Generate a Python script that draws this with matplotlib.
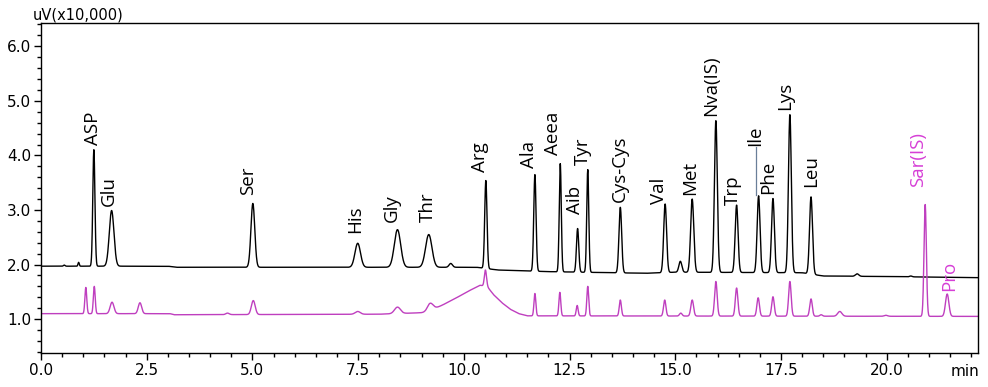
import numpy as np
import matplotlib
matplotlib.use("Agg")
import matplotlib.pyplot as plt
from matplotlib.ticker import MultipleLocator, FormatStrFormatter

# peak table, black trace: retention time (min), top value (x10,000 uV), width (sigma, min)
blk_t = [0.55, 0.89, 1.25, 1.67, 5.01, 7.49, 8.43, 9.17, 9.69, 10.52, 11.68, 12.28, 12.69,
         12.93, 13.70, 14.76, 15.12, 15.40, 15.96, 16.45, 16.97, 17.31, 17.71, 18.21, 19.30, 20.57]
blk_top = [1.99, 2.04, 4.11, 2.99, 3.12, 2.39, 2.64, 2.55, 2.02, 3.54, 3.65, 3.85, 2.66,
           3.74, 3.05, 3.11, 2.06, 3.20, 4.64, 3.09, 3.26, 3.21, 4.75, 3.24, 1.83, 1.79]
blk_w = [0.02, 0.015, 0.025, 0.055, 0.045, 0.065, 0.075, 0.075, 0.04, 0.027, 0.027, 0.024, 0.027,
         0.024, 0.032, 0.034, 0.035, 0.037, 0.034, 0.034, 0.034, 0.034, 0.034, 0.035, 0.04, 0.03]
# baseline knots of the black trace
blk_base_t = [0.0, 3.0, 3.2, 10.3, 10.8, 12.0, 14.3, 15.0, 18.0, 18.5, 20.0, 22.15]
blk_base_v = [1.97, 1.97, 1.95, 1.95, 1.90, 1.87, 1.84, 1.86, 1.85, 1.79, 1.78, 1.76]

# magenta trace
mag_t = [1.06, 1.26, 1.68, 2.34, 4.41, 5.02, 7.49, 8.43, 9.20, 10.51, 11.68, 12.27, 12.68,
         12.93, 13.70, 14.75, 15.13, 15.40, 15.96, 16.45, 16.96, 17.31, 17.71, 18.21, 18.45,
         18.89, 19.98, 20.91, 21.43]
mag_top = [1.58, 1.60, 1.31, 1.30, 1.11, 1.34, 1.14, 1.22, 1.29, 1.90, 1.47, 1.49, 1.25,
           1.60, 1.35, 1.35, 1.11, 1.35, 1.69, 1.57, 1.39, 1.41, 1.69, 1.37, 1.08,
           1.14, 1.07, 3.10, 1.46]
mag_w = [0.022, 0.022, 0.045, 0.04, 0.04, 0.045, 0.06, 0.07, 0.07, 0.025, 0.022, 0.022, 0.022,
         0.022, 0.025, 0.028, 0.03, 0.032, 0.03, 0.03, 0.03, 0.03, 0.03, 0.03, 0.03,
         0.05, 0.04, 0.028, 0.04]
mag_base_t = [0.0, 3.05, 3.15, 8.0, 9.1, 9.3, 9.5, 9.8, 10.1, 10.38, 10.55, 10.7, 10.9, 11.1, 11.3, 11.5, 22.15]
mag_base_v = [1.10, 1.10, 1.08, 1.09, 1.12, 1.19, 1.26, 1.38, 1.51, 1.62, 1.60, 1.45, 1.30, 1.18, 1.10, 1.06, 1.05]

# peak names: label x (min), label bottom (uV x10,000)
names = ["ASP", "Glu", "Ser", "His", "Gly", "Thr", "Arg", "Ala", "Aeea", "Aib", "Tyr",
         "Cys-Cys", "Val", "Met", "Nva(IS)", "Trp", "Ile", "Phe", "Lys", "Leu"]
name_t = [1.22, 1.61, 4.89, 7.42, 8.29, 9.16, 10.38, 11.54, 12.11, 12.62, 12.81,
          13.69, 14.61, 15.34, 15.84, 16.37, 16.88, 17.19, 17.60, 18.22]
name_v = [4.20, 3.08, 3.28, 2.57, 2.78, 2.78, 3.69, 3.77, 4.00, 2.92, 3.83,
          3.14, 3.11, 3.28, 4.73, 3.10, 4.17, 3.30, 4.83, 3.42]
mag_names = ["Sar(IS)", "Pro"]
mag_name_t = [20.74, 21.47]
mag_name_v = [3.42, 1.52]


def trace(t, pk_t, pk_top, pk_w, kt, kv):
    base = np.interp(t, kt, kv)
    y = base.copy()
    for p, h, w in zip(pk_t, pk_top, pk_w):
        amp = h - np.interp(p, kt, kv)
        y += amp * np.exp(-0.5 * ((t - p) / w) ** 2)
    return y


t = np.linspace(0, 22.15, 6000)
y_blk = trace(t, blk_t, blk_top, blk_w, blk_base_t, blk_base_v)
y_mag = trace(t, mag_t, mag_top, mag_w, mag_base_t, mag_base_v)

fig = plt.figure(figsize=(9.88, 3.87), dpi=100)
ax = fig.add_axes([0.0415, 0.088, 0.948, 0.853])
ax.plot(t, y_blk, color="black", lw=1.0)
ax.plot(t, y_mag, color="#bf3fbf", lw=1.0)

ax.set_xlim(0, 22.15)
ax.set_ylim(0.38, 6.43)
ax.xaxis.set_major_locator(MultipleLocator(2.5))
ax.xaxis.set_minor_locator(MultipleLocator(0.5))
ax.yaxis.set_major_locator(MultipleLocator(1.0))
ax.yaxis.set_minor_locator(MultipleLocator(0.2))
ax.xaxis.set_major_formatter(FormatStrFormatter("%.1f"))
ax.yaxis.set_major_formatter(FormatStrFormatter("%.1f"))
ax.tick_params(which="major", direction="out", length=5, width=1, labelsize=11, pad=2)
ax.tick_params(which="minor", direction="out", length=3, width=1)
for s in ax.spines.values():
    s.set_linewidth(1.0)

lab_font = dict(family="Open Sans", fontsize=13.5, rotation=90, ha="center", va="bottom")
for n, x, v in zip(names, name_t, name_v):
    ax.text(x, v, n, color="black", **lab_font)
for n, x, v in zip(mag_names, mag_name_t, mag_name_v):
    ax.text(x, v, n, color="#d63fd6", **lab_font)
# leader line for Ile
ax.plot([16.92, 16.92], [3.27, 4.15], color="#6a7f99", lw=0.9)

fig.text(33 / 988, 1 - 19 / 387, "uV(x10,000)", fontsize=10.5, ha="left", va="baseline")
fig.text(965 / 988, 1 - 372 / 387, "min", fontsize=11, ha="center", va="center")

fig.savefig("out.png", dpi=100)
